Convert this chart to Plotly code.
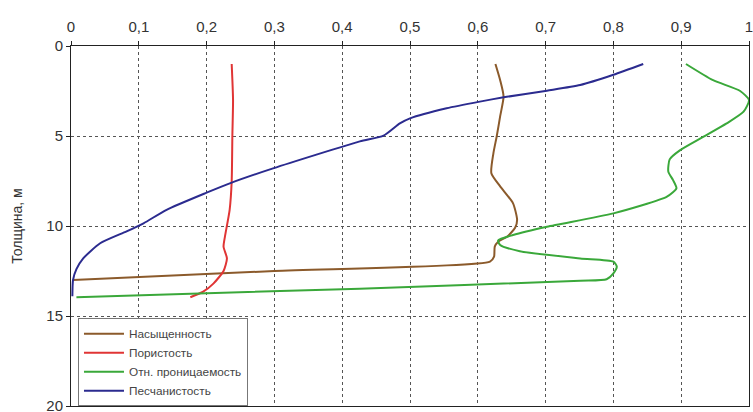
import plotly.graph_objects as go

# Depth profiles (depth in m, property as fraction)
sat_x = [0.626, 0.633, 0.638, 0.633, 0.628, 0.623, 0.620, 0.633, 0.652, 0.658, 0.655, 0.643, 0.630, 0.625, 0.624, 0.618, 0.300, 0.003]
sat_y = [1.0, 1.9, 2.8, 3.9, 5.0, 5.96, 7.07, 7.8, 8.74, 9.67, 10.1, 10.6, 10.87, 11.15, 11.7, 11.98, 12.5, 13.0]

por_x = [0.237, 0.239, 0.238, 0.237, 0.234, 0.227, 0.225, 0.230, 0.225, 0.210, 0.195, 0.176]
por_y = [1.0, 3.0, 5.0, 7.5, 9.1, 10.6, 11.15, 11.8, 12.5, 13.2, 13.65, 13.96]

perm_x = [0.907, 0.947, 0.987, 1.0, 0.992, 0.967, 0.933, 0.898, 0.883, 0.881, 0.888, 0.893, 0.879, 0.80, 0.702, 0.652, 0.630, 0.633, 0.662, 0.751, 0.80, 0.805, 0.80, 0.79, 0.751, 0.426, 0.008]
perm_y = [1.0, 1.9, 2.5, 3.0, 3.65, 4.3, 5.04, 5.8, 6.3, 6.98, 7.45, 7.9, 8.37, 9.3, 10.04, 10.5, 10.8, 11.06, 11.4, 11.8, 11.98, 12.26, 12.63, 12.96, 13.04, 13.48, 13.96]

sand_x = [0.844, 0.80, 0.751, 0.702, 0.638, 0.603, 0.554, 0.50, 0.485, 0.461, 0.426, 0.298, 0.237, 0.20, 0.141, 0.107, 0.082, 0.043, 0.018, 0.008, 0.003, 0.002]
sand_y = [1.0, 1.6, 2.17, 2.48, 2.85, 3.09, 3.46, 4.02, 4.3, 4.98, 5.3, 6.8, 7.59, 8.15, 9.1, 9.85, 10.3, 10.96, 11.8, 12.4, 13.0, 13.9]

x_ticks = [0, 0.1, 0.2, 0.3, 0.4, 0.5, 0.6, 0.7, 0.8, 0.9, 1]
y_ticks = [0, 5, 10, 15, 20]

series = [
    ("Насыщенность", sat_x, sat_y, "#8b5a2b"),
    ("Пористость", por_x, por_y, "#e03535"),
    ("Отн. проницаемость", perm_x, perm_y, "#3aa83a"),
    ("Песчанистость", sand_x, sand_y, "#2b2b8f"),
]

fig = go.Figure()
for name, xs, ys, color in series:
    fig.add_trace(go.Scatter(
        x=xs, y=ys, name=name, mode="lines",
        line=dict(color=color, width=2, shape="spline", smoothing=0.6),
    ))

FONT = "Liberation Sans, Arial, sans-serif"
axis_font = dict(family=FONT, size=15, color="#333")

fig.update_layout(
    width=753, height=412,
    margin=dict(l=71, r=4, t=46, b=6),
    paper_bgcolor="white", plot_bgcolor="white",
    separators=", ",
    font=axis_font,
    showlegend=True,
    legend=dict(
        x=0.0103, y=0.244, xanchor="left", yanchor="top",
        bgcolor="white", bordercolor="#777", borderwidth=1,
        font=dict(family=FONT, size=11.8, color="#444"),
        itemwidth=40, tracegroupgap=0,
    ),
    xaxis=dict(
        side="top", range=[0, 1], tickvals=x_ticks, automargin=False,
        showgrid=True, gridcolor="#555", griddash="dot", gridwidth=1,
        showline=True, linecolor="#222", linewidth=1, mirror=True,
        ticks="outside", ticklen=4, tickcolor="#222", ticklabelstandoff=3,
        ticklabeloverflow="allow",
        zeroline=False, tickfont=axis_font,
    ),
    yaxis=dict(
        range=[20, 0], tickvals=y_ticks, automargin=False,
        showgrid=True, gridcolor="#555", griddash="dot", gridwidth=1,
        showline=True, linecolor="#222", linewidth=1, mirror=True,
        ticks="outside", ticklen=4, tickcolor="#222",
        ticklabeloverflow="allow",
        zeroline=False, tickfont=axis_font,
        title=dict(text="Толщина, м", font=dict(family=FONT, size=14, color="#333"), standoff=20),
    ),
)

fig.write_html("out.html")
